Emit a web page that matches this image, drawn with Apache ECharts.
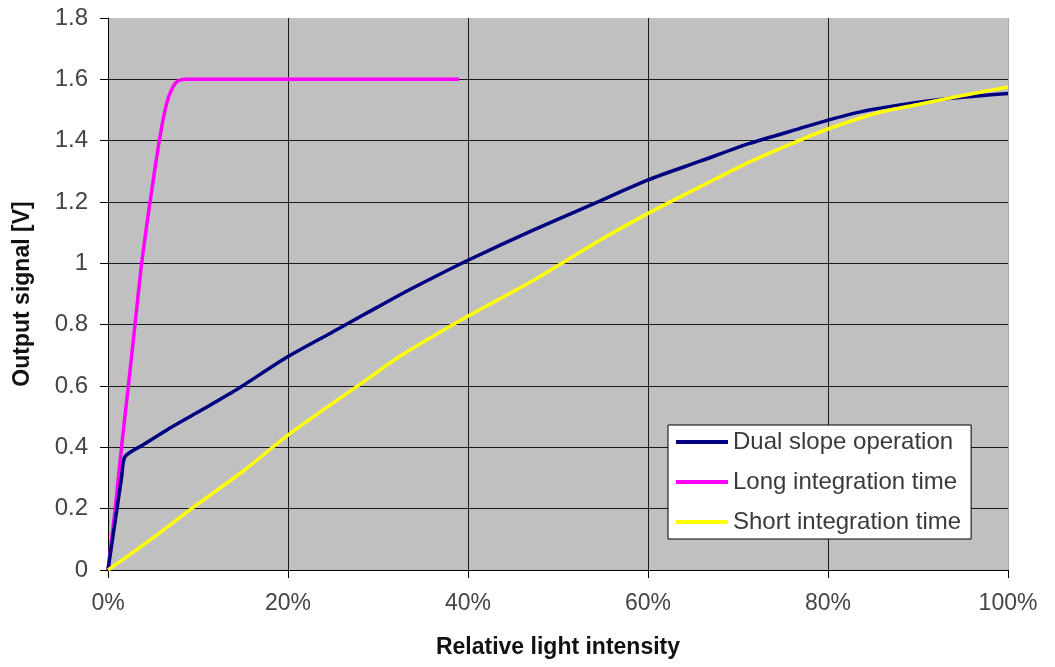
<!DOCTYPE html>
<html>
<head>
<meta charset="utf-8">
<script src="https://cdn.jsdelivr.net/npm/echarts@6/dist/echarts.min.js"></script>
<style>
html,body{margin:0;padding:0;background:#fff;}
#c{width:1055px;height:667px;}
</style>
</head>
<body>
<div id="c"></div>
<script>
// Data: [relative light intensity (%), output signal (V)]
const dualSlope = [[0,0],[0.5,0.1],[1,0.2],[1.5,0.3],[1.9,0.37],[4,0.41],[6.5,0.456],[10,0.515],[13.9,0.581],[20,0.696],[25,0.777],[28.7,0.837],[32.4,0.897],[36.1,0.953],[40,1.01],[47.3,1.109],[54.7,1.204],[60,1.272],[65.8,1.333],[71.3,1.391],[76.9,1.44],[80,1.467],[83.6,1.494],[88,1.516],[93.6,1.538],[100,1.554]];
const longIntegration = [[0,0],[0.8,0.2],[1.5,0.4],[2.26,0.6],[3.0,0.8],[3.74,1.0],[4.67,1.2],[5.7,1.4],[6.5,1.52],[7.2,1.575],[7.8,1.595],[8.6,1.6],[39,1.6]];
const shortIntegration = [[0,0],[5,0.105],[9.5,0.205],[15,0.322],[20,0.44],[28.7,0.62],[32.4,0.696],[40,0.828],[47.3,0.945],[54.7,1.076],[60,1.163],[65.8,1.25],[71.3,1.331],[76.9,1.402],[80,1.438],[83.6,1.474],[86.1,1.495],[90,1.518],[93,1.536],[96,1.553],[100,1.575]];
const seriesNames = ['Dual slope operation','Long integration time','Short integration time'];
const xTicks = {min:0,max:100,interval:20};
const yTicks = {min:0,max:1.8,interval:0.2};

const chart = echarts.init(document.getElementById('c'));
const font = 'Liberation Sans, Arial, sans-serif';
const dark = '#1a1a1a';
chart.setOption({
  animation:false,
  backgroundColor:'#ffffff',
  grid:{left:108,top:18,right:47,bottom:97,show:true,backgroundColor:'#c0c0c0',borderWidth:0},
  legend:{
    orient:'vertical',left:668,top:425,
    backgroundColor:'#ffffff',borderColor:'#000',borderWidth:1,
    padding:[3,10,3,8],itemGap:12,itemWidth:52,itemHeight:4,
    icon:'rect',
    textStyle:{fontFamily:font,fontSize:24,color:'#3a3a3a',lineHeight:28},
    data:seriesNames
  },
  xAxis:{
    type:'value',min:xTicks.min,max:xTicks.max,interval:xTicks.interval,
    name:'Relative light intensity',nameLocation:'middle',nameGap:66,
    nameTextStyle:{fontFamily:font,fontSize:23,fontWeight:'bold',color:'#111'},
    axisLine:{show:true,lineStyle:{color:'#000',width:1}},
    axisTick:{show:true,length:8,lineStyle:{color:'#000'}},
    axisLabel:{formatter:'{value}%',fontFamily:font,fontSize:23,color:'#444',margin:22},
    splitLine:{show:true,lineStyle:{color:[dark,dark,dark,dark,dark,'#a8a8a8'],width:1}}
  },
  yAxis:{
    type:'value',min:yTicks.min,max:yTicks.max,interval:yTicks.interval,
    name:'Output signal [V]',nameLocation:'middle',nameGap:74,nameRotate:90,
    nameTextStyle:{fontFamily:font,fontSize:23,fontWeight:'bold',color:'#111'},
    axisLine:{show:true,lineStyle:{color:'#000',width:1}},
    axisTick:{show:true,length:8,lineStyle:{color:'#000'}},
    axisLabel:{fontFamily:font,fontSize:24,color:'#444',margin:20},
    splitLine:{show:true,lineStyle:{color:[dark,dark,dark,dark,dark,dark,dark,dark,dark,'rgba(0,0,0,0)'],width:1}}
  },
  series:[
    {name:seriesNames[0],type:'line',data:dualSlope,showSymbol:false,smooth:0.25,lineStyle:{color:'#000080',width:3.5},itemStyle:{color:'#000080'},z:3},
    {name:seriesNames[1],type:'line',data:longIntegration,showSymbol:false,smooth:0.25,lineStyle:{color:'#ff00ff',width:3.5},itemStyle:{color:'#ff00ff'},z:2},
    {name:seriesNames[2],type:'line',data:shortIntegration,showSymbol:false,smooth:0.25,lineStyle:{color:'#ffff00',width:3.5},itemStyle:{color:'#ffff00'},z:4}
  ]
});
</script>
</body>
</html>
